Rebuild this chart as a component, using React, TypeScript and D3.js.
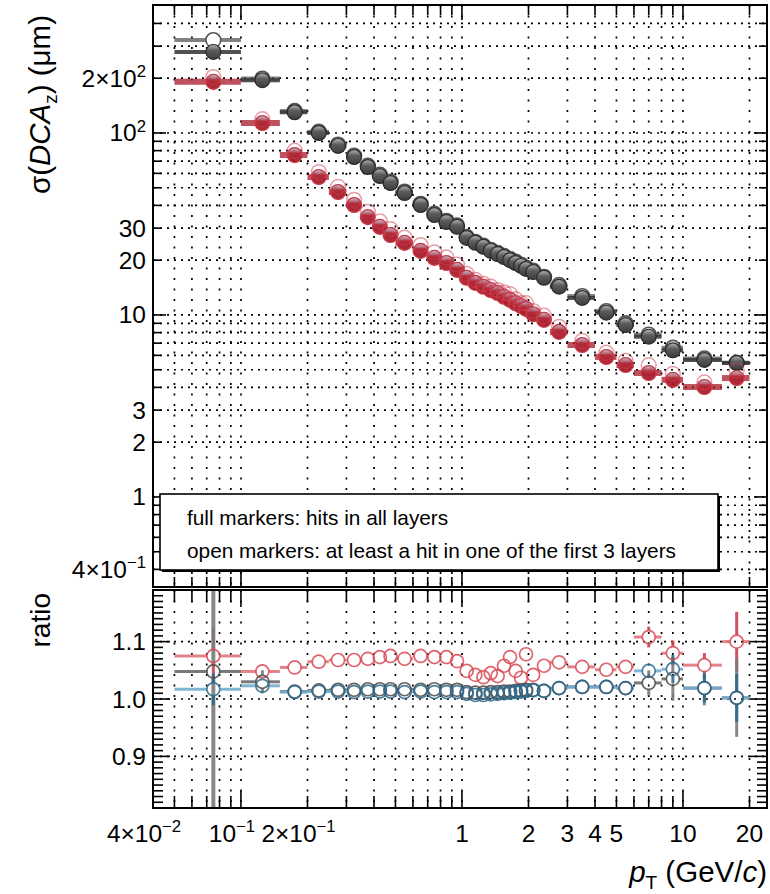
import React from "react";
import * as d3 from "d3";

// ---------------- data ----------------
const binLow = [0.05, 0.1, 0.15, 0.2, 0.25, 0.3, 0.35, 0.4, 0.45, 0.5, 0.6, 0.7, 0.8, 0.9, 1.0, 1.1, 1.2, 1.3, 1.4, 1.5, 1.6, 1.7, 1.8, 1.9, 2.0, 2.2, 2.5, 3, 4, 5, 6, 8, 10, 15];
const binHigh = [0.1, 0.15, 0.2, 0.25, 0.3, 0.35, 0.4, 0.45, 0.5, 0.6, 0.7, 0.8, 0.9, 1.0, 1.1, 1.2, 1.3, 1.4, 1.5, 1.6, 1.7, 1.8, 1.9, 2.0, 2.2, 2.5, 3, 4, 5, 6, 8, 10, 15, 20];
const ptCenter = [0.075, 0.125, 0.175, 0.225, 0.275, 0.325, 0.375, 0.425, 0.475, 0.55, 0.65, 0.75, 0.85, 0.95, 1.05, 1.15, 1.25, 1.35, 1.45, 1.55, 1.65, 1.75, 1.85, 1.95, 2.1, 2.35, 2.75, 3.5, 4.5, 5.5, 7, 9, 12.5, 17.5];

// sigma(DCA_z) in um, full markers
const grayFull = [279, 195, 130, 100, 84.9, 73.8, 65.0, 58.0, 53.1, 46.8, 40.2, 35.4, 32.4, 30.5, 26.5, 24.9, 23.7, 22.5, 21.6, 20.8, 20.0, 19.3, 18.6, 17.9, 17.2, 16.0, 14.3, 12.4, 10.3, 8.8, 7.6, 6.4, 5.66, 5.45];
const redFull = [191, 113.5, 75.7, 57.3, 47.4, 40.2, 34.5, 30.5, 27.5, 24.9, 22.5, 20.6, 19.3, 17.7, 16.0, 15.0, 14.3, 13.7, 13.2, 12.6, 12.1, 11.6, 11.2, 10.8, 10.1, 9.4, 8.07, 6.84, 5.88, 5.31, 4.8, 4.4, 4.02, 4.5];
// open markers in the upper panel
const grayOpen = [324, 199, 132, 101.5, 86.3, 75.0, 66.1, 59.0, 54.0, 47.6, 40.8, 36.0, 32.9, 31.0, 26.8, 25.2, 24.0, 22.8, 21.9, 21.1, 20.3, 19.6, 18.9, 18.2, 17.5, 16.2, 14.6, 12.7, 10.5, 9.0, 7.8, 6.6, 5.77, 5.46];
const redOpen = [203, 119, 79.9, 61.0, 50.6, 42.9, 36.9, 32.7, 29.6, 26.6, 24.2, 22.1, 20.7, 18.9, 16.8, 15.6, 14.8, 14.3, 13.7, 13.3, 13.0, 12.2, 11.6, 11.6, 10.5, 9.9, 8.6, 7.2, 6.2, 5.6, 5.3, 4.75, 4.26, 4.95];

// ratio panel
const redRatio = [1.075, 1.048, 1.055, 1.065, 1.068, 1.068, 1.07, 1.073, 1.075, 1.07, 1.075, 1.073, 1.073, 1.066, 1.049, 1.042, 1.038, 1.045, 1.04, 1.058, 1.073, 1.049, 1.037, 1.078, 1.042, 1.058, 1.064, 1.056, 1.051, 1.056, 1.108, 1.08, 1.059, 1.1];
const redRatioErr = [0.05, 0.012, 0.006, 0.004, 0.004, 0.004, 0.004, 0.004, 0.004, 0.004, 0.004, 0.004, 0.004, 0.004, 0.004, 0.004, 0.004, 0.004, 0.004, 0.004, 0.004, 0.004, 0.004, 0.004, 0.004, 0.004, 0.005, 0.005, 0.006, 0.008, 0.018, 0.022, 0.021, 0.052];
const grayRatio = [1.048, 1.03, 1.013, 1.015, 1.016, 1.016, 1.017, 1.017, 1.017, 1.017, 1.016, 1.017, 1.016, 1.016, 1.012, 1.011, 1.011, 1.012, 1.012, 1.013, 1.013, 1.014, 1.015, 1.016, 1.016, 1.014, 1.019, 1.021, 1.021, 1.019, 1.028, 1.035, 1.019, 1.002];
const grayRatioErr = [0.4, 0.02, 0.006, 0.004, 0.004, 0.004, 0.004, 0.004, 0.004, 0.004, 0.004, 0.004, 0.004, 0.004, 0.004, 0.004, 0.004, 0.004, 0.004, 0.004, 0.004, 0.004, 0.004, 0.004, 0.004, 0.004, 0.005, 0.005, 0.006, 0.008, 0.022, 0.038, 0.03, 0.068];
const blueRatio = [1.017, 1.023, 1.012, 1.013, 1.013, 1.012, 1.013, 1.013, 1.013, 1.012, 1.013, 1.012, 1.012, 1.012, 1.009, 1.007, 1.007, 1.008, 1.009, 1.01, 1.011, 1.012, 1.013, 1.014, 1.015, 1.014, 1.019, 1.021, 1.021, 1.019, 1.049, 1.052, 1.019, 1.002];
const blueRatioErr = [0.028, 0.008, 0.005, 0.004, 0.004, 0.004, 0.004, 0.004, 0.004, 0.004, 0.004, 0.004, 0.004, 0.004, 0.004, 0.004, 0.004, 0.004, 0.004, 0.004, 0.004, 0.004, 0.004, 0.004, 0.004, 0.004, 0.005, 0.005, 0.006, 0.008, 0.012, 0.025, 0.025, 0.042];

// axis labels
const xTickValues = [0.04, 0.1, 0.2, 1, 2, 3, 4, 5, 10, 20];
const xTickLabels = ["4×10^-2", "10^-1", "2×10^-1", "1", "2", "3", "4", "5", "10", "20"];
const yTickValues = [0.4, 1, 2, 3, 10, 20, 30, 100, 200];
const yTickLabels = ["4×10^-1", "1", "2", "3", "10", "20", "30", "10^2", "2×10^2"];
const ratioTickValues = [0.9, 1.0, 1.1];
const ratioTickLabels = ["0.9", "1.0", "1.1"];
const ratioMinorTicks = d3.range(82, 119).map((v) => v / 100);
const legendLines = ["full markers: hits in all layers", "open markers: at least a hit in one of the first 3 layers"];

// ---------------- layout ----------------
const W = 770;
const H = 894;
const L = 153;
const R = 767;
const topT = 5;
const topB = 587;
const ratT = 590;
const ratB = 808;
const FONT = "'Liberation Sans', Arial, Helvetica, sans-serif";
const TICKFS = 24.5;
const TITLEFS = 29.5;

const xS = d3.scaleLog().domain([0.04, 24]).range([L, R]);
const yTop = d3.scaleLog().domain([0.32, 505]).range([topB, topT]);
const yRat = d3.scaleLinear().domain([0.81, 1.19]).range([ratB, ratT]);

const isDecade = (v: number) => Math.abs(Math.log10(v) - Math.round(Math.log10(v))) < 1e-6;
const xTicks = xS.ticks().filter((v) => xS(v) > L + 1 && xS(v) < R - 1);
const yTicks = yTop.ticks().filter((v) => yTop(v) > topT + 1 && yTop(v) < topB - 1);

function Label({ s, x, y, anchor, size }: { s: string; x: number; y: number; anchor: string; size: number }) {
  const m = s.match(/^(.*?)\^(.*)$/);
  if (!m) {
    return (
      <text x={x} y={y} textAnchor={anchor} fontSize={size} fontFamily={FONT} fill="#000">
        {s}
      </text>
    );
  }
  return (
    <text x={x} y={y} textAnchor={anchor} fontSize={size} fontFamily={FONT} fill="#000">
      {m[1]}
      <tspan dy={-size * 0.4} fontSize={size * 0.68}>
        {m[2].replace("-", "−")}
      </tspan>
    </text>
  );
}

// error bar segments drawn outside the marker
function hSegs(x1: number, x2: number, cx: number, r: number) {
  const out: [number, number][] = [];
  if (cx - r > x1) out.push([x1, cx - r]);
  if (x2 > cx + r) out.push([cx + r, x2]);
  return out;
}

export default function App() {
  const gridV = "2 8.5";
  const gridH = "2 5";
  const rr = 6.5;
  const rm = 7.4;
  return (
    <svg width={W} height={H} viewBox={`0 0 ${W} ${H}`} style={{ position: "absolute", left: 0, top: 0, display: "block", background: "#fff" }}>
      <defs>
        <linearGradient id="gGray" x1="0" y1="0" x2="0" y2="1">
          <stop offset="0%" stopColor="#b8b8b8" />
          <stop offset="40%" stopColor="#5c5c5c" />
          <stop offset="100%" stopColor="#3c3c3c" />
        </linearGradient>
        <linearGradient id="gRed" x1="0" y1="0" x2="0" y2="1">
          <stop offset="0%" stopColor="#b8c4d8" />
          <stop offset="38%" stopColor="#b22a38" />
          <stop offset="100%" stopColor="#a0101e" />
        </linearGradient>
        <clipPath id="clipTop">
          <rect x={L} y={topT} width={R - L} height={topB - topT} />
        </clipPath>
        <clipPath id="clipRat">
          <rect x={L} y={ratT} width={R - L} height={ratB - ratT} />
        </clipPath>
      </defs>
      <rect x={0} y={0} width={W} height={H} fill="#fff" />

      {/* ---------- grids ---------- */}
      <g stroke="#000" strokeWidth={1.7} fill="none">
        {xTicks.map((v, i) => (
          <line key={"gvt" + i} x1={xS(v)} x2={xS(v)} y1={topT} y2={topB} strokeDasharray={gridV} />
        ))}
        {yTicks.map((v, i) => (
          <line key={"ght" + i} x1={L} x2={R} y1={yTop(v)} y2={yTop(v)} strokeDasharray={gridH} />
        ))}
        {xTicks.map((v, i) => (
          <line key={"gvr" + i} x1={xS(v)} x2={xS(v)} y1={ratT} y2={ratB} strokeDasharray={gridV} />
        ))}
        {ratioTickValues.map((v, i) => (
          <line key={"ghr" + i} x1={L} x2={R} y1={yRat(v)} y2={yRat(v)} strokeDasharray={gridH} />
        ))}
      </g>

      {/* ---------- upper panel data ---------- */}
      <g clipPath="url(#clipTop)">
        {ptCenter.map((c, i) => (
          <line key={"gh" + i} x1={xS(binLow[i])} x2={xS(binHigh[i])} y1={yTop(grayOpen[i])} y2={yTop(grayOpen[i])} stroke="#555" strokeOpacity={0.75} strokeWidth={4} />
        ))}
        {ptCenter.map((c, i) => (
          <circle key={"go" + i} cx={xS(c)} cy={yTop(grayOpen[i])} r={rm} fill="#fff" stroke="#555" strokeWidth={1.6} />
        ))}
        {ptCenter.map((c, i) => (
          <line key={"gfh" + i} x1={xS(binLow[i])} x2={xS(binHigh[i])} y1={yTop(grayFull[i])} y2={yTop(grayFull[i])} stroke="#333" strokeOpacity={0.85} strokeWidth={4} />
        ))}
        {ptCenter.map((c, i) => (
          <circle key={"gf" + i} cx={xS(c)} cy={yTop(grayFull[i])} r={rm} fill="url(#gGray)" stroke="#2a2a2a" strokeWidth={1.2} />
        ))}
        {ptCenter.map((c, i) => (
          <line key={"rfh" + i} x1={xS(binLow[i])} x2={xS(binHigh[i])} y1={yTop(redFull[i])} y2={yTop(redFull[i])} stroke="#a8182a" strokeOpacity={0.75} strokeWidth={6} />
        ))}
        {ptCenter.map((c, i) => (
          <circle key={"rf" + i} cx={xS(c)} cy={yTop(redFull[i])} r={rm} fill="url(#gRed)" fillOpacity={0.92} stroke="#c83848" strokeWidth={1.3} />
        ))}
        {ptCenter.map((c, i) => (
          <circle key={"ro" + i} cx={xS(c)} cy={yTop(redOpen[i])} r={rm} fill="none" stroke="#d04050" strokeOpacity={0.5} strokeWidth={1.5} />
        ))}
      </g>

      {/* ---------- ratio panel data ---------- */}
      <g clipPath="url(#clipRat)">
        {[
          { v: redRatio, e: redRatioErr, h: "#e0767c", vcol: "#c8404a" },
          { v: grayRatio, e: grayRatioErr, h: "#6a6a6a", vcol: "#7a7a7a" },
          { v: blueRatio, e: blueRatioErr, h: "#74acd0", vcol: "#2c6a8c" },
        ].map((s, k) => (
          <g key={"eb" + k}>
            {ptCenter.map((c, i) => {
              const cx = xS(c);
              const cy = yRat(s.v[i]);
              const yHi = yRat(s.v[i] + s.e[i]);
              const yLo = yRat(s.v[i] - s.e[i]);
              return (
                <g key={i} strokeOpacity={0.9}>
                  {hSegs(xS(binLow[i]), xS(binHigh[i]), cx, rr).map((sg, j) => (
                    <line key={"h" + j} x1={sg[0]} x2={sg[1]} y1={cy} y2={cy} stroke={s.h} strokeWidth={3} />
                  ))}
                  {cy - rr > yHi && <line x1={cx} x2={cx} y1={yHi} y2={cy - rr} stroke={s.vcol} strokeWidth={k === 1 && i === 0 ? 4 : 3} />}
                  {yLo > cy + rr && <line x1={cx} x2={cx} y1={cy + rr} y2={yLo} stroke={s.vcol} strokeWidth={k === 1 && i === 0 ? 4 : 3} />}
                </g>
              );
            })}
          </g>
        ))}
        {ptCenter.map((c, i) => (
          <circle key={"rr" + i} cx={xS(c)} cy={yRat(redRatio[i])} r={rr} fill="none" stroke="#d84a54" strokeOpacity={0.85} strokeWidth={1.7} />
        ))}
        {ptCenter.map((c, i) => (
          <circle key={"gr" + i} cx={xS(c)} cy={yRat(grayRatio[i])} r={rr} fill="none" stroke="#4a4a4a" strokeOpacity={0.85} strokeWidth={1.7} />
        ))}
        {ptCenter.map((c, i) => (
          <circle key={"br" + i} cx={xS(c)} cy={yRat(blueRatio[i])} r={rr} fill="none" stroke="#2a6a8e" strokeOpacity={0.85} strokeWidth={1.7} />
        ))}
      </g>

      {/* ---------- frames & ticks ---------- */}
      <g stroke="#000" fill="none">
        <rect x={L} y={topT} width={R - L} height={topB - topT} strokeWidth={2} />
        <rect x={L} y={ratT} width={R - L} height={ratB - ratT} strokeWidth={2} />
        {xTicks.map((v, i) => {
          const big = isDecade(v);
          const x = xS(v);
          const lt = big ? 15 : 10;
          const lr = big ? 17 : 12;
          return (
            <g key={"xt" + i} strokeWidth={1.6}>
              <line x1={x} x2={x} y1={topT} y2={topT + lt} />
              <line x1={x} x2={x} y1={topB} y2={topB - lt} />
              <line x1={x} x2={x} y1={ratT} y2={ratT + lr} />
              <line x1={x} x2={x} y1={ratB} y2={ratB - lr} />
            </g>
          );
        })}
        {yTicks.map((v, i) => {
          const big = isDecade(v);
          const y = yTop(v);
          const l = big ? 13 : 8;
          return (
            <g key={"yt" + i} strokeWidth={1.6}>
              <line x1={L} x2={L + l} y1={y} y2={y} />
              <line x1={R} x2={R - l} y1={y} y2={y} />
            </g>
          );
        })}
        {ratioMinorTicks.map((v, i) => {
          const big = Math.abs(v * 10 - Math.round(v * 10)) < 1e-6;
          const y = yRat(v);
          const l = big ? 17 : 10;
          return (
            <g key={"rt" + i} strokeWidth={1.6}>
              <line x1={L} x2={L + l} y1={y} y2={y} />
              <line x1={R} x2={R - l} y1={y} y2={y} />
            </g>
          );
        })}
      </g>

      {/* ---------- legend ---------- */}
      <rect x={162} y={496} width={558} height={76} fill="#000" />
      <rect x={160} y={494} width={558} height={76} fill="#fff" stroke="#000" strokeWidth={1.6} />
      {legendLines.map((t, i) => (
        <text key={"lg" + i} x={187} y={525 + i * 33} fontSize={20.8} fontFamily={FONT} fill="#000">
          {t}
        </text>
      ))}

      {/* ---------- tick labels ---------- */}
      {xTickValues.map((v, i) => (
        <Label key={"xl" + i} s={xTickLabels[i]} x={xS(v) - (xTickLabels[i].includes("^") ? 9 : 0)} y={842} anchor="middle" size={TICKFS} />
      ))}
      {yTickValues.map((v, i) => (
        <Label key={"yl" + i} s={yTickLabels[i]} x={146} y={yTop(v) + 8.5} anchor="end" size={TICKFS} />
      ))}
      {ratioTickValues.map((v, i) => (
        <Label key={"rl" + i} s={ratioTickLabels[i]} x={146} y={yRat(v) + 8.5} anchor="end" size={TICKFS} />
      ))}

      {/* ---------- axis titles ---------- */}
      <text transform="translate(50,15) rotate(-90)" textAnchor="end" fontSize={TITLEFS} fontFamily={FONT} fill="#000">
        σ(<tspan fontStyle="italic">DCA</tspan>
        <tspan dy={7} fontSize={19}>z</tspan>
        <tspan dy={-7}>) (μm)</tspan>
      </text>
      <text transform="translate(50,593) rotate(-90)" textAnchor="end" fontSize={TITLEFS - 1.5} fontFamily={FONT} fill="#000">
        ratio
      </text>
      <text x={767} y={882} textAnchor="end" fontSize={TITLEFS} fontFamily={FONT} fill="#000">
        <tspan fontStyle="italic">p</tspan>
        <tspan dy={7} fontSize={19}>T</tspan>
        <tspan dy={-7}> (GeV/</tspan>
        <tspan fontStyle="italic">c</tspan>
        <tspan>)</tspan>
      </text>
    </svg>
  );
}
